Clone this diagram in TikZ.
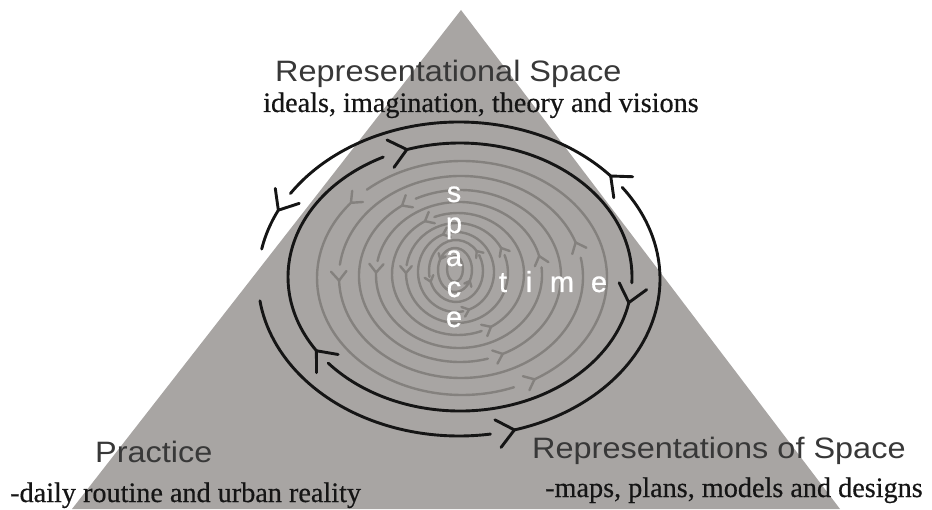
\documentclass[tikz,border=0pt]{standalone}
\usepackage{fontspec}
\setmainfont{Liberation Serif}[FakeBold=0.5]
\setsansfont{Liberation Sans}
\newfontfamily\lettersans{Liberation Sans}[FakeBold=0.8]
\usepackage{graphicx}
\definecolor{tri}{HTML}{A8A5A3}
\definecolor{ringc}{HTML}{84817E}
\definecolor{ink}{HTML}{151515}
\definecolor{lbl}{HTML}{383838}
% barbs of an arrow whose tip lies on an ellipse
% #1 cx, #2 cy, #3 rx, #4 ry, #5 angle, #6 direction (+1/-1), #7 barb length, #8 style
\newcommand\ebarb[8]{%
  \pgfmathsetmacro\tang{atan2((#6)*(#4)*cos(#5),-(#6)*(#3)*sin(#5))}%
  \path (#1,#2) ++(#5:{#3} and {#4}) coordinate (bv);%
  \draw[#8] (bv) ++(\tang+140:#7) -- (bv) -- ++(\tang+220:#7);%
}
\begin{document}
\begin{tikzpicture}[x=1pt,y=1pt,
  blackline/.style={draw=ink,line width=2.9pt,line cap=round,line join=round},
  grayline/.style={draw=ringc,line width=2.4pt,line cap=round,line join=round},
  titletext/.style={font=\fontsize{29.5}{32}\selectfont\sffamily,text=lbl,inner sep=0pt,anchor=base west},
  subtext/.style={font=\fontsize{28.2}{30}\selectfont\rmfamily,text=ink,inner sep=0pt,anchor=base west},
  letter/.style={font=\fontsize{29}{29}\selectfont\lettersans,text=white,inner sep=0pt,anchor=base}]
\useasboundingbox (0,0) rectangle (932,509);
\fill[tri] (461,499) -- (72,0) -- (840,0) -- cycle;

% gray concentric rings with arrows (counterclockwise)
\foreach \rx/\ry/\cx/\cy/\a/\b/\l in {
  145/117/462/231/140/300/12,
  122/101/461/232/20/182/12,
  101/86/460/233/125/295/11,
  83/73/459/234/15/178/11,
  66/61/458/235/120/300/10,
  51/50/457/236/30/180/9,
  38/40/456/237/110/290/8,
  27/31/456/238/40/200/7,
  17/22/455/239/150/330/6}{
  \pgfmathsetmacro\bend{\b-9}
  \pgfmathsetmacro\aend{\a+351}
  \draw[grayline] (\cx,\cy) ++(\a:{\rx} and {\ry}) arc[start angle=\a,end angle=\bend,x radius=\rx,y radius=\ry];
  \draw[grayline] (\cx,\cy) ++(\b:{\rx} and {\ry}) arc[start angle=\b,end angle=\aend,x radius=\rx,y radius=\ry];
  \ebarb{\cx}{\cy}{\rx}{\ry}{\a}{1}{\l}{grayline}
  \ebarb{\cx}{\cy}{\rx}{\ry}{\b}{1}{\l}{grayline}
}
\draw[grayline] (455,240) ellipse[x radius=8,y radius=13];

% outer black loop (counterclockwise)
\foreach \s/\e/\arr in {41/147/1, 154/169/1, 188/279/0, 286/395.7/1}{
  \draw[blackline] (459,230) ++(\s:201 and 157) arc[start angle=\s,end angle=\e,x radius=201,y radius=157];
  \ifnum\arr=1 \ebarb{459}{230}{201}{157}{\s}{1}{22}{blackline}\fi
}
% inner black loop (clockwise)
\foreach \s/\e in {108/-2.5, -11/-140, -146.6/-243.5}{
  \draw[blackline] (460,232) ++(\s:172 and 134) arc[start angle=\s,end angle=\e,x radius=172,y radius=134];
  \ebarb{460}{232}{172}{134}{\s}{-1}{22}{blackline}
}

% space / time
\node[letter] (s1) at (454,307) {s};
\node[letter] (s2) at (454,276) {p};
\node[letter] (s3) at (454,243) {a};
\node[letter] (s4) at (454,212) {c};
\node[letter] (s5) at (454,182) {e};
\node[letter] (t1) at (503,217) {t};
\node[letter] (t2) at (529,217) {i};
\node[letter] (t3) at (562,217) {m};
\node[letter] (t4) at (599,217) {e};

% labels
\node[titletext] (rs) at (275,427) {\scalebox{1.1}[1]{Representational Space}};
\node[subtext] (rsd) at (263,397) {ideals, imagination, theory and visions};
\node[titletext] (pr) at (95,46) {\scalebox{1.1}[1]{Practice}};
\node[subtext] (prd) at (10,7) {-daily routine and urban reality};
\node[titletext] (ros) at (532,50) {\scalebox{1.1}[1]{Representations of Space}};
\node[subtext] (rosd) at (545,12) {-maps, plans, models and designs};
\end{tikzpicture}
\end{document}
